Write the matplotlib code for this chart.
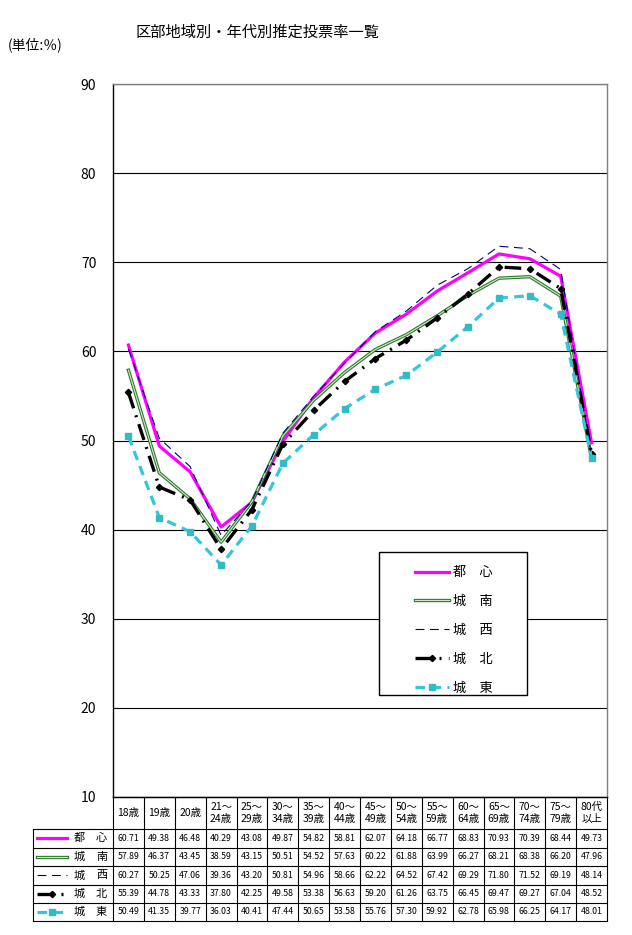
import numpy as np
import matplotlib
matplotlib.use('Agg')
import matplotlib.pyplot as plt
import matplotlib.patheffects as pe
from matplotlib.lines import Line2D
from matplotlib.patches import Rectangle
from matplotlib.transforms import Affine2D

plt.rcParams['font.family'] = ['Noto Sans CJK JP', 'DejaVu Sans']

#%% Data

ages = ['18歳', '19歳', '20歳', '21～\n24歳', '25～\n29歳', '30～\n34歳', '35～\n39歳',
        '40～\n44歳', '45～\n49歳', '50～\n54歳', '55～\n59歳', '60～\n64歳', '65～\n69歳',
        '70～\n74歳', '75～\n79歳', '80代\n以上']

toshin = [60.71, 49.38, 46.48, 40.29, 43.08, 49.87, 54.82, 58.81, 62.07, 64.18, 66.77, 68.83, 70.93, 70.39, 68.44, 49.73]
jonan = [57.89, 46.37, 43.45, 38.59, 43.15, 50.51, 54.52, 57.63, 60.22, 61.88, 63.99, 66.27, 68.21, 68.38, 66.20, 47.96]
josei = [60.27, 50.25, 47.06, 39.36, 43.20, 50.81, 54.96, 58.66, 62.22, 64.52, 67.42, 69.29, 71.80, 71.52, 69.19, 48.14]
johoku = [55.39, 44.78, 43.33, 37.80, 42.25, 49.58, 53.38, 56.63, 59.20, 61.26, 63.75, 66.45, 69.47, 69.27, 67.04, 48.52]
joto = [50.49, 41.35, 39.77, 36.03, 40.41, 47.44, 50.65, 53.58, 55.76, 57.30, 59.92, 62.78, 65.98, 66.25, 64.17, 48.01]

names = ['都　心', '城　南', '城　西', '城　北', '城　東']
series = [toshin, jonan, josei, johoku, joto]
yticks = [10, 20, 30, 40, 50, 60, 70, 80, 90]

#%% Styles

green_pe = [pe.Stroke(linewidth=2.4, foreground='#2f7a2f'), pe.Normal()]
styles = [
    dict(color='#FF00FF', lw=2.3, ls='-'),
    dict(color='#cfe8c4', lw=0.8, ls='-', path_effects=green_pe),
    dict(color='#000080', lw=0.8, ls=(0, (8, 5))),
    dict(color='black', lw=2.4, ls=(0, (5, 2.2, 0.6, 2.2)), marker='D', ms=3.2),
    dict(color='#33C6DD', lw=2.3, ls=(0, (3, 2)), marker='s', ms=5,
         mfc='#33BBC4', mec='#33BBC4'),
]

W, H = 632, 935
fig = plt.figure(figsize=(W / 100, H / 100), dpi=100)
# pixel coords from top-left
T = Affine2D().scale(1 / W, -1 / H).translate(0, 1) + fig.transFigure

L, R, TOP, BOT = 113, 607, 84, 797
ax = fig.add_axes([L / W, 1 - BOT / H, (R - L) / W, (BOT - TOP) / H])

x = np.arange(len(ages)) + 0.5
for name, vals, st in zip(names, series, styles):
    ax.plot(x, vals, label=name, **st)

ax.set_xlim(0, len(ages))
ax.set_ylim(10, 90)
ax.set_yticks(yticks)
ax.set_xticks([])
ax.tick_params(axis='y', length=0, pad=12, labelsize=10)
ax.yaxis.grid(True, color='black', lw=0.8)
ax.set_axisbelow(True)
ax.spines['left'].set_color('black')
ax.spines['bottom'].set_color('black')
ax.spines['top'].set_color('#808080')
ax.spines['right'].set_color('#808080')
for s in ax.spines.values():
    s.set_linewidth(1.0)

# legend box
ax.add_patch(Rectangle((0.5385, 0.143), 0.2996, 0.2006, transform=ax.transAxes,
                       facecolor='white', edgecolor='black', lw=1.0, zorder=5))
leg = ax.legend(loc='upper left', bbox_to_anchor=(0.597, 0.333), frameon=False,
                borderpad=0, fontsize=9.5, handlelength=2.65, handletextpad=0.3,
                labelspacing=1.2)
leg.set_zorder(6)

#%% Title

fig.text(258 / W, 1 - 32 / H, '区部地域別・年代別推定投票率一覧', ha='center', va='center', fontsize=11)
fig.text(8 / W, 1 - 45 / H, '(単位:％)', ha='left', va='center', fontsize=10)

#%% Data table

def hline(x0, x1, y):
    fig.add_artist(Line2D([x0, x1], [y, y], transform=T, color='black', lw=0.8))

def vline(xx, y0, y1):
    fig.add_artist(Line2D([xx, xx], [y0, y1], transform=T, color='black', lw=0.8))

cw = (R - L) / len(ages)
row_y = [829, 847.5, 866, 884.5, 903, 921]
hline(L, R, BOT)
for ry in row_y:
    hline(33, R, ry)
for i in range(len(ages) + 1):
    vline(L + i * cw, BOT, row_y[-1])
vline(33, row_y[0], row_y[-1])

for i, lab in enumerate(ages):
    fig.text((L + (i + 0.5) * cw) / W, 1 - 813 / H, lab, ha='center', va='center',
             fontsize=7.5, linespacing=1.15)

for r, (name, vals, st) in enumerate(zip(names, series, styles)):
    yc = (row_y[r] + row_y[r + 1]) / 2
    st2 = dict(st)
    if 'marker' in st2:
        st2['markevery'] = [1]
    fig.add_artist(Line2D([37, 52, 67], [yc, yc, yc], transform=T, **st2))
    fig.text(74 / W, 1 - yc / H, name[0], ha='left', va='center', fontsize=8)
    fig.text(96 / W, 1 - yc / H, name[-1], ha='left', va='center', fontsize=8)
    for i, v in enumerate(vals):
        fig.text((L + (i + 0.5) * cw) / W, 1 - yc / H, f'{v:.2f}', ha='center', va='center',
                 fontsize=6.3)

plt.savefig('out.png', dpi=100)
